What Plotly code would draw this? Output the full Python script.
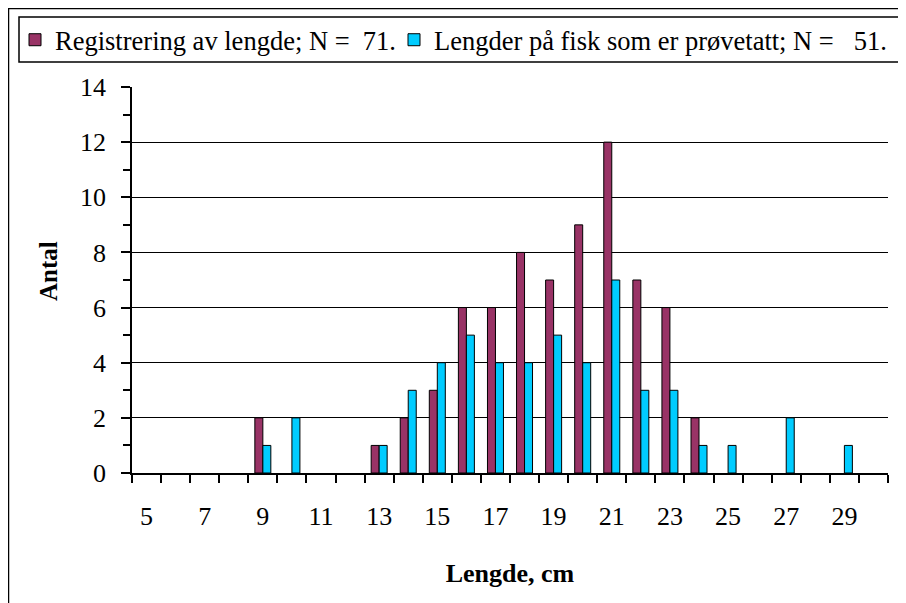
import plotly.graph_objects as go

lengths = list(range(5, 31))
registrering = [0, 0, 0, 0, 2, 0, 0, 0, 1, 2, 3, 6, 6, 8, 7, 9, 12, 7, 6, 2, 0, 0, 0, 0, 0, 0]
provetatt = [0, 0, 0, 0, 1, 2, 0, 0, 1, 3, 4, 5, 4, 4, 5, 4, 7, 3, 3, 1, 1, 0, 2, 0, 1, 0]
tick_labels = list(range(5, 30, 2))
name1 = "Registrering av lengde; N =  71."
name2 = "Lengder på fisk som er prøvetatt; N =   51."
x_title = "Lengde, cm"
y_title = "Antal"

# the page is offset by the 8px default body margin
OFF = 8
W, H = 906 - OFF, 603 - OFF
L, R, T, B = 132, 888, 87, 473  # plot area in page pixels
pw, ph = R - L, B - T

def px(x):
    return (x - L) / pw

def py(y):
    return (B - y) / ph

FONT = "Liberation Serif, Times New Roman, serif"

def nz(vals):
    return [v if v else None for v in vals]

fig = go.Figure()
fig.add_trace(go.Bar(x=lengths, y=nz(registrering), name=name1, legendwidth=334,
                     marker=dict(color="#993366", line=dict(color="black", width=1))))
fig.add_trace(go.Bar(x=lengths, y=nz(provetatt), name=name2, legendwidth=450,
                     marker=dict(color="#00CCFF", line=dict(color="black", width=1))))

fig.update_layout(
    width=W, height=H,
    margin=dict(l=L - OFF, r=906 - R, t=T - OFF, b=603 - B, autoexpand=False),
    paper_bgcolor="white", plot_bgcolor="white",
    font=dict(family=FONT, color="black", size=26),
    barmode="group", bargap=0.45, bargroupgap=0,
    showlegend=True,
    legend=dict(orientation="h", x=px(15), xanchor="left", y=py(40), yanchor="middle",
                font=dict(size=26.5, family=FONT), bgcolor="rgba(0,0,0,0)",
                itemwidth=30, tracegroupgap=0),
    xaxis=dict(range=[4.5, 30.5], tickmode="array", tickvals=tick_labels,
               ticktext=[str(v) for v in tick_labels], ticks="", showgrid=False,
               showline=True, linecolor="black", linewidth=1.5, zeroline=False,
               tickfont=dict(size=26), ticklabelstandoff=19,
               minor=dict(tickmode="array", tickvals=[v + 0.5 for v in range(4, 31)],
                          ticks="outside", ticklen=8, tickcolor="black", tickwidth=1.5,
                          showgrid=False),
               title=dict(text="<b>" + x_title + "</b>", font=dict(size=26), standoff=34)),
    yaxis=dict(range=[0, 14], dtick=2, tick0=0, ticks="outside", ticklen=9,
               tickcolor="black", tickwidth=1.5, showline=True, linecolor="black",
               linewidth=1.5, showgrid=True, gridcolor="#000000", gridwidth=1,
               zeroline=False, tickfont=dict(size=26), ticklabelstandoff=10,
               minor=dict(dtick=1, ticks="outside", ticklen=7, tickcolor="black",
                          tickwidth=1.5, showgrid=False)),
    annotations=[
        dict(text="<b>" + y_title + "</b>", xref="paper", yref="paper",
             x=px(48), y=py(271), xanchor="center", yanchor="middle",
             textangle=-90, showarrow=False, font=dict(size=25, family=FONT)),
    ],
    shapes=[
        dict(type="rect", xref="paper", yref="paper", x0=px(8.5), x1=px(1000),
             y0=py(800), y1=py(8.5), line=dict(color="black", width=1.5), layer="below"),
        dict(type="rect", xref="paper", yref="paper", x0=px(19), x1=px(903),
             y0=py(62), y1=py(17), line=dict(color="black", width=1.5), layer="below"),
    ],
)

fig.write_html("out.html")
